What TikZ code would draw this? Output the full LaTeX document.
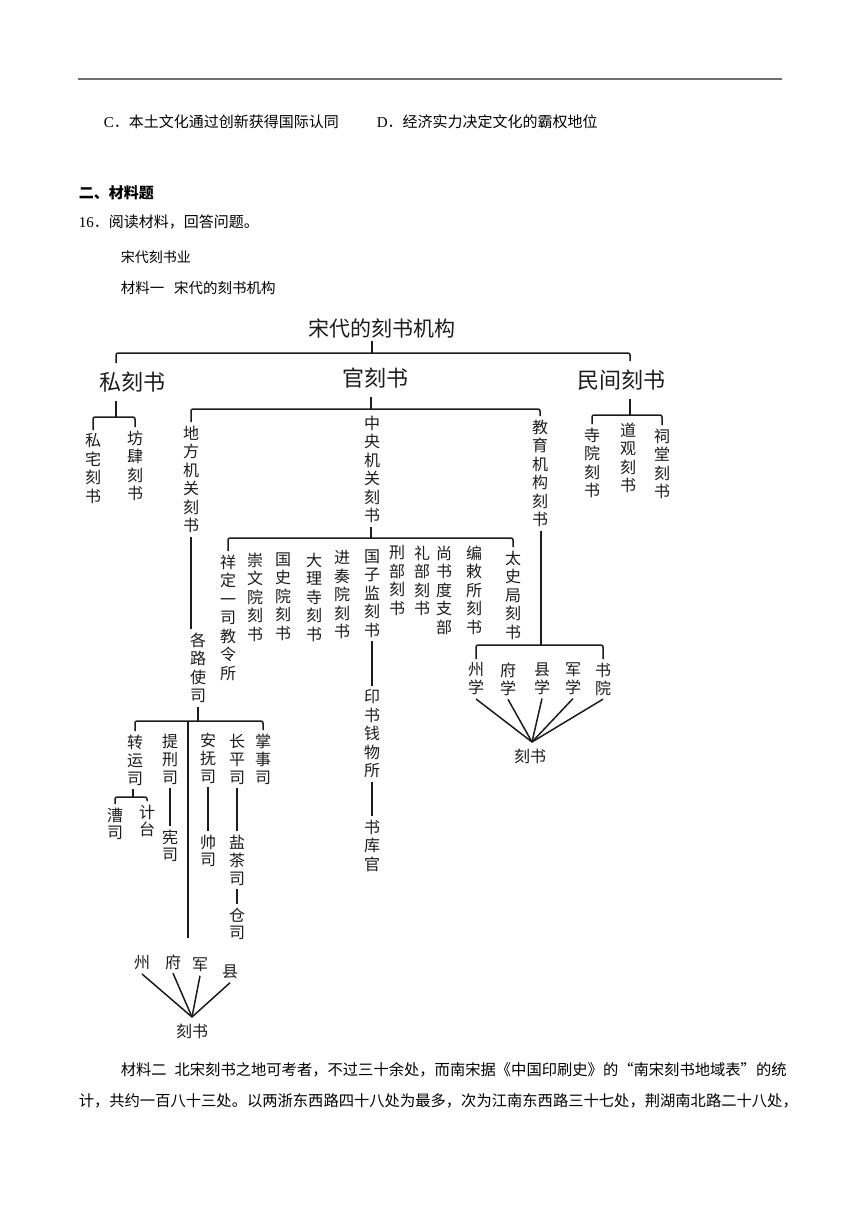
\documentclass[tikz,border=0pt]{standalone}
\usepackage{fontspec}
\setmainfont{Liberation Serif}
\newfontfamily\cjk{Noto Sans CJK SC}
\definecolor{ink}{HTML}{1C1C1C}
\definecolor{rulegray}{HTML}{707070}
\newcommand{\bodyfont}{\cjk\fontsize{15}{18}\selectfont}
\newcommand{\treefont}{\cjk\fontsize{16}{18.5}\selectfont}
\newcommand{\headfont}{\cjk\fontsize{22}{26}\selectfont}

\begin{document}
\begin{tikzpicture}[x=1pt,y=-1pt,font=\bodyfont,line width=1.5pt,
  para/.style={anchor=west,inner sep=0pt},
  head/.style={font=\headfont,inner sep=8pt,text=ink},
  vlab/.style={font=\treefont,align=center,anchor=north,inner sep=3pt,yshift=11pt,text=ink},
  hlab/.style={font=\treefont,inner sep=3pt,text=ink},
  link/.style={draw=ink,rounded corners=2pt}]
\useasboundingbox[fill=white] (0,0) rectangle (860,1216);

\draw[rulegray,line width=1.3pt] (78,79) -- (782,79);
\node[para] (optc) at (103,122) {{\rmfamily C}．本土文化通过创新获得国际认同};
\node[para] (optd) at (376,122) {{\rmfamily D}．经济实力决定文化的霸权地位};
\node[para,font=\bodyfont\bfseries] (part) at (78,193) {二、材料题};
\node[para] (q16) at (78,222) {{\rmfamily 16}．阅读材料，回答问题。};
\node[para,font=\cjk\fontsize{14}{17}\selectfont] (topic) at (120,257) {宋代刻书业};
\node[para,font=\cjk\fontsize{14.5}{17}\selectfont] (mat1) at (120,288) {材料一\hspace{10pt}宋代的刻书机构};

\node[head,font=\cjk\fontsize{21}{25}\selectfont,inner sep=3pt] (title) at (382,328) {宋代的刻书机构};
\node[head] (sike) at (132,382) {私刻书};
\node[head] (guanke) at (375,378) {官刻书};
\node[head] (minjian) at (621,380) {民间刻书};

\node[vlab] (sizhai) at (93,441) {私\\宅\\刻\\书};
\node[vlab] (fangsi) at (135,438) {坊\\肆\\刻\\书};
\node[vlab] (difang) at (191,433) {地\\方\\机\\关\\刻\\书};
\node[vlab] (zhongyang) at (372,423) {中\\央\\机\\关\\刻\\书};
\node[vlab] (jiaoyu) at (540,427) {教\\育\\机\\构\\刻\\书};
\node[vlab] (simiao) at (592,435) {寺\\院\\刻\\书};
\node[vlab] (daoguan) at (628,430) {道\\观\\刻\\书};
\node[vlab] (citang) at (662,436) {祠\\堂\\刻\\书};

\node[vlab] (xiangding) at (228,562) {祥\\定\\一\\司\\教\\令\\所};
\node[vlab] (chongwen) at (255,560) {崇\\文\\院\\刻\\书};
\node[vlab] (guoshi) at (283,560) {国\\史\\院\\刻\\书};
\node[vlab] (dali) at (314,560) {大\\理\\寺\\刻\\书};
\node[vlab] (jinzou) at (342,558) {进\\奏\\院\\刻\\书};
\node[vlab] (guozijian) at (372,557) {国\\子\\监\\刻\\书};
\node[vlab] (xingbu) at (397,553) {刑\\部\\刻\\书};
\node[vlab] (libu) at (422,553) {礼\\部\\刻\\书};
\node[vlab] (duzhi) at (444,553) {尚\\书\\度\\支\\部};
\node[vlab] (bianchi) at (474,553) {编\\敕\\所\\刻\\书};
\node[vlab] (taishi) at (513,558) {太\\史\\局\\刻\\书};

\node[vlab] (yinshu) at (372,697) {印\\书\\钱\\物\\所};
\node[vlab] (shuku) at (372,827) {书\\库\\官};

\node[vlab] (gelu) at (198,640) {各\\路\\使\\司};
\node[vlab,font=\cjk\fontsize{16}{18}\selectfont] (zhuanyun) at (135,742) {转\\运\\司};
\node[vlab,font=\cjk\fontsize{16}{18}\selectfont] (tixing) at (170,741) {提\\刑\\司};
\node[vlab,font=\cjk\fontsize{16}{18}\selectfont] (anfu) at (208,740) {安\\抚\\司};
\node[vlab,font=\cjk\fontsize{16}{18}\selectfont] (changping) at (237,741) {长\\平\\司};
\node[vlab,font=\cjk\fontsize{16}{18}\selectfont] (zhangshi) at (263,741) {掌\\事\\司};
\node[vlab,font=\cjk\fontsize{16}{17.5}\selectfont] (caosi) at (115,815) {漕\\司};
\node[vlab,font=\cjk\fontsize{16}{17.5}\selectfont] (jitai) at (147,812) {计\\台};
\node[vlab,font=\cjk\fontsize{16}{17}\selectfont] (xiansi) at (170,837) {宪\\司};
\node[vlab,font=\cjk\fontsize{16}{17}\selectfont] (shuaisi) at (208,842) {帅\\司};
\node[vlab,font=\cjk\fontsize{16}{18}\selectfont] (yancha) at (237,842) {盐\\茶\\司};
\node[vlab,font=\cjk\fontsize{16}{17.5}\selectfont] (cangsi) at (237,915) {仓\\司};

\node[hlab] (zhou) at (142,963) {州};
\node[hlab] (fu) at (173,962) {府};
\node[hlab] (jun) at (200,965) {军};
\node[hlab] (xian) at (230,972) {县};
\node[hlab] (keshua) at (192,1031) {刻书};

\node[vlab,font=\cjk\fontsize{16}{18}\selectfont] (zhouxue) at (476,670) {州\\学};
\node[vlab,font=\cjk\fontsize{16}{18}\selectfont] (fuxue) at (508,670) {府\\学};
\node[vlab,font=\cjk\fontsize{16}{18}\selectfont] (xianxue) at (542,670) {县\\学};
\node[vlab,font=\cjk\fontsize{16}{18}\selectfont] (junxue) at (573,670) {军\\学};
\node[vlab,font=\cjk\fontsize{16}{18}\selectfont] (shuyuan) at (603,670) {书\\院};
\node[hlab] (keshub) at (530,756) {刻书};

\coordinate (b0) at (372,353);
\coordinate (b1) at (116,417);
\coordinate (b2) at (371,409);
\coordinate (b3) at (630,415);
\coordinate (b4) at (371,538);
\coordinate (b5) at (198,721);
\coordinate (b6) at (133,797);
\coordinate (b7) at (541,645);
\coordinate (lineend) at (188,938);
\coordinate (huba) at (192,1017);
\coordinate (hubb) at (532,742);

\draw[link] (title.south -| b0) -- (b0);
\draw[link] (sike.north -| b1) |- (b0) -| (minjian.north -| b3);
\draw[link] (sike.south -| b1) -- (b1);
\draw[link] (sizhai.north) |- (b1) -| (fangsi.north);
\draw[link] (guanke.south -| b2) -- (b2);
\draw[link] (difang.north) |- (b2) -| (jiaoyu.north);
\draw[link] (minjian.south -| b3) -- (b3);
\draw[link] (simiao.north) |- (b3) -| (citang.north);

\draw[link] (zhongyang.south -| b4) -- (b4);
\draw[link] (xiangding.north) |- (b4) -| (taishi.north);
\draw[link] (guozijian.south) -- (yinshu.north);
\draw[link] (yinshu.south) -- (shuku.north);

\draw[link] (difang.south) -- (difang.south |- gelu.north);
\draw[link] (gelu.south -| b5) -- (b5);
\draw[link] (zhuanyun.north) |- (b5) -| (zhangshi.north);
\draw[link] (lineend |- b5) -- (lineend);
\draw[link] (zhuanyun.south -| b6) -- (b6);
\draw[link] (caosi.north) |- (b6) -| (jitai.north);
\draw[link] (tixing.south) -- (xiansi.north);
\draw[link] (anfu.south) -- (shuaisi.north);
\draw[link] (changping.south) -- (yancha.north);
\draw[link] (yancha.south) -- (cangsi.north);
\foreach \n in {zhou,fu,jun,xian}
  \draw[link] (\n.south) -- (huba);

\draw[link] (jiaoyu.south -| b7) -- (b7);
\draw[link] (zhouxue.north) |- (b7) -| (shuyuan.north);
\foreach \n in {zhouxue,fuxue,xianxue,junxue,shuyuan}
  \draw[link] (\n.south) -- (hubb);

\node[para,font=\cjk\fontsize{15.3}{18}\selectfont] (mat2a) at (120,1070) {材料二\hspace{8pt}北宋刻书之地可考者，不过三十余处，而南宋据《中国印刷史》的“南宋刻书地域表”的统};
\node[para,font=\cjk\fontsize{15.3}{18}\selectfont] (mat2b) at (78,1101) {计，共约一百八十三处。以两浙东西路四十八处为最多，次为江南东西路三十七处，荆湖南北路二十八处，};
\end{tikzpicture}
\end{document}
